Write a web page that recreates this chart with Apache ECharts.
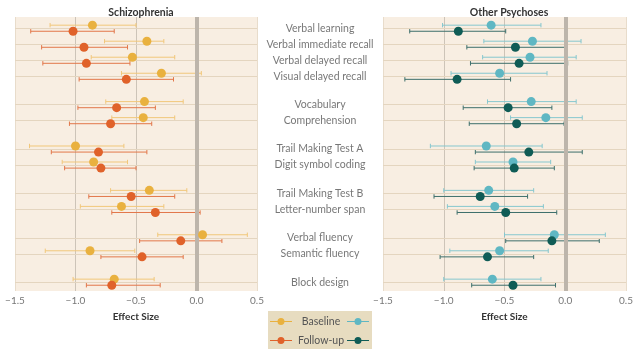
<!DOCTYPE html>
<html>
<head>
<meta charset="utf-8">
<script src="https://cdn.jsdelivr.net/npm/echarts@6/dist/echarts.min.js"></script>
<style>
  html, body { margin: 0; padding: 0; background: #fff; }
  #chart { width: 641px; height: 353px; }
</style>
</head>
<body>
<div id="chart"></div>
<script>
// tests, grouped as in the figure (a gap separates each group)
var groups = [
    ['Verbal learning', 'Verbal immediate recall', 'Verbal delayed recall', 'Visual delayed recall'],
    ['Vocabulary', 'Comprehension'],
    ['Trail Making Test A', 'Digit symbol coding'],
    ['Trail Making Test B', 'Letter-number span'],
    ['Verbal fluency', 'Semantic fluency'],
    ['Block design']
];
var groupGap = 0.77;

// Schizophrenia: [estimate, lower CI, upper CI]
var szBaseline = [
    [-0.86, -1.21, -0.50], [-0.41, -0.76, -0.27], [-0.53, -0.87, -0.18], [-0.29, -0.62, 0.04],
    [-0.43, -0.75, -0.11], [-0.44, -0.70, -0.18],
    [-1.00, -1.38, -0.60], [-0.85, -1.11, -0.57],
    [-0.39, -0.71, -0.08], [-0.62, -0.96, -0.27],
    [0.05, -0.32, 0.42], [-0.88, -1.25, -0.51],
    [-0.68, -1.02, -0.35]
];
var szFollowup = [
    [-1.02, -1.37, -0.68], [-0.93, -1.28, -0.57], [-0.91, -1.27, -0.55], [-0.58, -0.97, -0.19],
    [-0.66, -0.98, -0.34], [-0.71, -1.05, -0.37],
    [-0.81, -1.20, -0.41], [-0.79, -1.09, -0.50],
    [-0.54, -0.89, -0.18], [-0.34, -0.70, 0.03],
    [-0.13, -0.47, 0.21], [-0.45, -0.79, -0.11],
    [-0.70, -0.91, -0.30]
];
// Other psychoses
var opBaseline = [
    [-0.61, -1.01, -0.20], [-0.27, -0.67, 0.13], [-0.29, -0.68, 0.09], [-0.54, -0.94, -0.15],
    [-0.28, -0.64, 0.09], [-0.16, -0.45, 0.14],
    [-0.65, -1.11, -0.19], [-0.43, -0.74, -0.12],
    [-0.63, -1.00, -0.26], [-0.58, -0.97, -0.18],
    [-0.09, -0.50, 0.33], [-0.54, -0.95, -0.14],
    [-0.60, -1.00, -0.20]
];
var opFollowup = [
    [-0.88, -1.28, -0.49], [-0.41, -0.81, 0.00], [-0.38, -0.78, 0.02], [-0.89, -1.32, -0.45],
    [-0.47, -0.84, -0.11], [-0.40, -0.79, -0.01],
    [-0.30, -0.74, 0.14], [-0.42, -0.75, -0.09],
    [-0.70, -1.08, -0.31], [-0.49, -0.89, -0.07],
    [-0.11, -0.49, 0.28], [-0.64, -1.03, -0.26],
    [-0.43, -0.77, -0.08]
];
var xTicks = [-1.5, -1.0, -0.5, 0.0, 0.5];

var names = [], rowPos = [];
groups.forEach(function (g, gi) {
    g.forEach(function (n) {
        rowPos.push(names.length + gi * groupGap);
        names.push(n);
    });
});

var off = 0.19;
var font = 'Lato, "Open Sans", sans-serif';

function dots(d, shift) {
    return d.map(function (r, i) { return [r[0], rowPos[i] + shift]; });
}
function bars(d, shift) {
    return d.map(function (r, i) { return [r[1], r[2], rowPos[i] + shift]; });
}
function renderBar(params, api) {
    var lo = api.coord([api.value(0), api.value(2)]);
    var hi = api.coord([api.value(1), api.value(2)]);
    var c = api.visual('color');
    var h = 2.2;
    return {
        type: 'group',
        children: [
            { type: 'line', shape: { x1: lo[0], y1: lo[1], x2: hi[0], y2: hi[1] }, style: { stroke: c, lineWidth: 1 } },
            { type: 'line', shape: { x1: lo[0], y1: lo[1] - h, x2: lo[0], y2: lo[1] + h }, style: { stroke: c, lineWidth: 1 } },
            { type: 'line', shape: { x1: hi[0], y1: hi[1] - h, x2: hi[0], y2: hi[1] + h }, style: { stroke: c, lineWidth: 1 } }
        ]
    };
}

function xAxisFor(idx) {
    return {
        type: 'value', gridIndex: idx, min: xTicks[0], max: xTicks[xTicks.length - 1], interval: 0.5,
        name: 'Effect Size', nameLocation: 'middle', nameGap: 21,
        nameTextStyle: { fontFamily: font, fontWeight: 'bold', fontSize: 10, color: '#333' },
        axisLine: { show: false },
        axisTick: { show: false },
        axisLabel: {
            fontFamily: font, fontSize: 10, color: '#777', margin: 5,
            formatter: function (v) { return v.toFixed(1).replace('-', '\u2212'); }
        },
        splitLine: { show: true, lineStyle: { color: ['#e8dccb', '#cdc4b8', '#cdc4b8', '#cdc4b8', '#e8dccb'], width: 1 } }
    };
}
function yAxisFor(idx) {
    return {
        type: 'value', gridIndex: idx, min: -0.7, max: 16.4, inverse: true,
        show: false
    };
}

var lineMarks = {
    silent: true, symbol: 'none', animation: false, label: { show: false },
    lineStyle: { color: '#e4d5bf', width: 1, type: 'solid' },
    emphasis: { disabled: true },
    data: rowPos.map(function (p) { return { yAxis: p }; })
};
var zeroMark = {
    silent: true, symbol: 'none', animation: false, label: { show: false },
    lineStyle: { color: '#bdb5ab', width: 4, type: 'solid' },
    emphasis: { disabled: true },
    data: [{ xAxis: 0 }]
};

function panelSeries(idx, base, fol, cBase, cBaseBar, cFol, cFolBar, nBase, nFol) {
    return [
        { type: 'line', xAxisIndex: idx, yAxisIndex: idx, data: [], z: 1, markLine: lineMarks },
        { type: 'line', xAxisIndex: idx, yAxisIndex: idx, data: [], z: 2, markLine: zeroMark },
        { type: 'custom', xAxisIndex: idx, yAxisIndex: idx, z: 3, renderItem: renderBar,
          itemStyle: { color: cBaseBar }, data: bars(base, -off), silent: true },
        { type: 'custom', xAxisIndex: idx, yAxisIndex: idx, z: 3, renderItem: renderBar,
          itemStyle: { color: cFolBar }, data: bars(fol, off), silent: true },
        { name: nBase, type: 'scatter', xAxisIndex: idx, yAxisIndex: idx, z: 5, symbolSize: 9,
          itemStyle: { color: cBase, opacity: 1 }, data: dots(base, -off), silent: true },
        { name: nFol, type: 'scatter', xAxisIndex: idx, yAxisIndex: idx, z: 6, symbolSize: 9,
          itemStyle: { color: cFol, opacity: 1 }, data: dots(fol, off), silent: true }
    ];
}

// legend icon: short line with a dot on it
var legendIcon = 'path://M0,3 L22,3 L22,4 L0,4 Z M11,0 A3.5,3.5 0 1,1 10.99,0 Z';

var series = []
    .concat(panelSeries(0, szBaseline, szFollowup, '#e9b13f', '#f1c77a', '#e0622a', '#e2774a', 'Baseline', 'Follow-up'))
    .concat(panelSeries(1, opBaseline, opFollowup, '#5fb7c3', '#86c7ce', '#0f5c56', '#3d6f6b', 'op-b', 'op-f'));

series.push({
    type: 'scatter', xAxisIndex: 2, yAxisIndex: 2, symbolSize: 0, silent: true,
    data: names.map(function (n, i) { return { name: n, value: [0, rowPos[i]] }; }),
    label: {
        show: true, position: 'inside', formatter: '{b}',
        fontFamily: font, fontSize: 10.5, color: '#555'
    }
});

var chart = echarts.init(document.getElementById('chart'));
chart.setOption({
    animation: false,
    title: [
        { text: 'Schizophrenia', left: 136, top: 2, textAlign: 'center',
          textStyle: { fontFamily: font, fontSize: 10.5, fontWeight: 'bold', color: '#333' } },
        { text: 'Other Psychoses', left: 504, top: 2, textAlign: 'center',
          textStyle: { fontFamily: font, fontSize: 10.5, fontWeight: 'bold', color: '#333' } }
    ],
    graphic: [
        { type: 'rect', left: 268, top: 311, shape: { width: 104, height: 38 },
          style: { fill: '#e7dcc0' }, silent: true }
    ],
    legend: [
        {
            data: ['Baseline', 'Follow-up'], orient: 'vertical', left: 270, top: 316, padding: 0,
            itemGap: 8, itemWidth: 22, itemHeight: 7, icon: legendIcon, selectedMode: false,
            textStyle: {
                fontFamily: font, fontSize: 10.5, color: '#555',
                rich: { a: { width: 48, align: 'center', fontFamily: font, fontSize: 10.5, color: '#555' } }
            },
            formatter: function (n) { return '{a|' + n + '}'; }
        },
        {
            data: ['op-b', 'op-f'], orient: 'vertical', left: 347, top: 316, padding: 0,
            itemGap: 8, itemWidth: 22, itemHeight: 7, icon: legendIcon, selectedMode: false,
            textStyle: {
                fontFamily: font, fontSize: 10.5, color: '#555',
                rich: { a: { width: 1, fontFamily: font, fontSize: 10.5 } }
            },
            formatter: function () { return '{a| }'; }
        }
    ],
    grid: [
        { left: 15, right: 384, top: 17, bottom: 62, show: true, backgroundColor: '#f8eee2', borderWidth: 0 },
        { left: 383, right: 15, top: 17, bottom: 62, show: true, backgroundColor: '#f8eee2', borderWidth: 0 },
        { left: 257, right: 258, top: 17, bottom: 62 }
    ],
    xAxis: [
        xAxisFor(0),
        xAxisFor(1),
        { type: 'value', gridIndex: 2, min: -1, max: 1, show: false }
    ],
    yAxis: [yAxisFor(0), yAxisFor(1), yAxisFor(2)],
    series: series
});
</script>
</body>
</html>
